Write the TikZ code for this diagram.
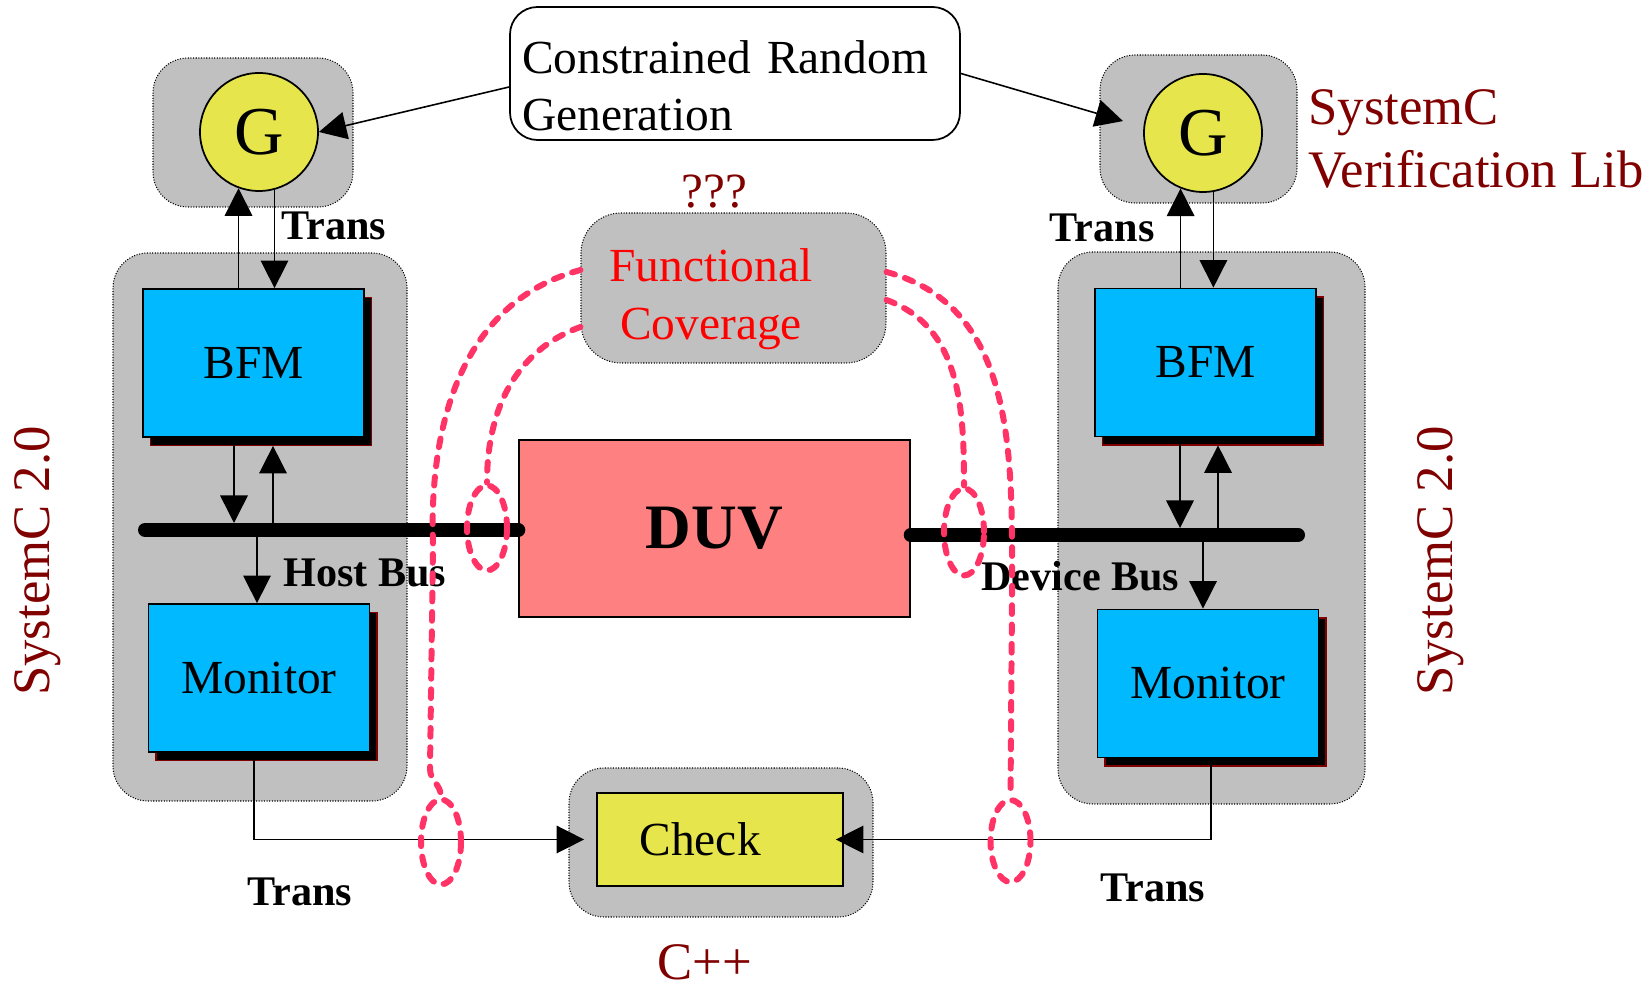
\documentclass[tikz,border=0pt]{standalone}
\usepackage{fontspec}
\setmainfont{Liberation Serif}
\usepackage{tikz}
\usetikzlibrary{arrows.meta}
\usetikzlibrary{shapes,shadows}
\usetikzlibrary{positioning}

\definecolor{grpgray}{RGB}{192,192,192}
\definecolor{genyellow}{RGB}{230,230,76}
\definecolor{bfmblue}{RGB}{0,185,255}
\definecolor{duvpink}{RGB}{255,128,128}
\definecolor{libred}{RGB}{128,0,0}
\definecolor{covpink}{RGB}{255,51,102}

\tikzstyle{group}=[draw,rounded corners=0.7cm,fill=grpgray,line width=0.6pt,dash pattern=on 0.6pt off 0.9pt]
\tikzstyle{gen}=[circle,draw,fill=genyellow,line width=1pt,minimum size=2.36cm,inner sep=0pt,font=\fontsize{39}{44}\selectfont]
\tikzstyle{blk}=[draw,fill=bfmblue,line width=1pt,minimum width=4.42cm,minimum height=2.96cm,
  font=\fontsize{27}{32}\selectfont,
  drop shadow={shadow xshift=0.15cm,shadow yshift=-0.17cm,fill=black,draw=libred,opacity=1}]
\tikzstyle{note}=[draw,rounded corners=0.55cm,line width=1pt,align=left,text width=8.52cm,
  inner xsep=0.24cm,minimum width=9cm,minimum height=2.66cm,text height=1.1cm,text depth=1.1cm,
  font=\fontsize{27}{32.4}\selectfont]
\tikzstyle{libtxt}=[text=libred,align=left,inner sep=0pt,font=\fontsize{30}{35.9}\selectfont]
\tikzstyle{lbl}=[inner sep=0pt,font=\bfseries\fontsize{24}{28}\selectfont]
\tikzstyle{conn}=[line width=0.9pt,-{Triangle[length=0.55cm,width=0.55cm]}]
\tikzstyle{hostbus}=[draw,line width=0.28cm,line cap=round]
\tikzstyle{cover}=[draw=covpink,line width=3.4pt,line cap=round,dash pattern=on 5pt off 6pt]
\tikzstyle{loop}=[ellipse,cover,minimum width=0.8cm,minimum height=1.7cm,inner sep=0pt]

\begin{document}
\begin{tikzpicture}
\useasboundingbox (0,0) rectangle (33,19.78);

% % % grey frames
	\node[group,minimum width=4.00cm,minimum height=2.98cm] (ggL) at (5.06,17.13) {};
	\node[group,minimum width=3.94cm,minimum height=2.96cm] (ggR) at (23.97,17.20) {};
	\node[group,minimum width=5.88cm,minimum height=10.96cm] (hostside) at (5.20,9.24) {};
	\node[group,minimum width=6.14cm,minimum height=11.04cm] (devside) at (24.23,9.22) {};
	\node[group,minimum width=6.10cm,minimum height=3.00cm,rounded corners=0.8cm] (fcg) at (14.67,14.02) {};
	\node[group,minimum width=6.08cm,minimum height=2.98cm] (ckg) at (14.42,2.93) {};

% % % generators
	\node[note] (crg) at (14.70,18.31) {Constrained Random\\Generation};
	\node[gen] (gL) at (5.18,17.14) {G};
	\node[gen] (gR) at (24.06,17.12) {G};
	\node[libtxt,anchor=base west] (svl) at (26.16,16.02) {SystemC\\Verification Lib};

	\path[draw,conn] ([yshift=-0.27cm]crg.west) -- (gL.east);
	\path[draw,conn,shorten >=0.42cm] (crg.east) -- ([yshift=0.12cm]gR.west);

% % % host side
	\node[blk] (bfmL) at (5.07,12.52) {BFM};
	\node[blk] (monL) at (5.18,6.22) {Monitor};
	\coordinate (busL) at (2.90,9.18);

% % % device side
	\node[blk] (bfmR) at (24.11,12.53) {BFM};
	\node[blk] (monR) at (24.16,6.11) {Monitor};
	\coordinate (busR) at (25.96,9.08);

% % % DUV and checker
	\node[draw,fill=duvpink,line width=0.8pt,minimum width=7.82cm,minimum height=3.54cm,
	  font=\bfseries\fontsize{36}{40}\selectfont] (duv) at (14.29,9.21) {DUV};
	\node[draw,fill=genyellow,line width=1pt,minimum width=4.92cm,minimum height=1.86cm,
	  text width=3.22cm,align=left,font=\fontsize{27}{32}\selectfont] (check) at (14.40,2.99) {Check};

	\path[hostbus] (busL) -- (busL -| duv.west);
	\path[hostbus] (duv.east |- busR) -- (busR);

% % % transactions
	\path[draw,conn] (gL.-110 |- bfmL.north) -- (gL.-110);
	\path[draw,conn] (gL.-75) -- (gL.-75 |- bfmL.north);
	\path[draw,conn,shorten >=0.14cm] ([xshift=-0.39cm]bfmL.south) -- ([xshift=-0.39cm]bfmL.south |- busL);
	\path[draw,conn,shorten >=0.16cm] ([xshift=0.39cm]bfmL.south |- busL) -- ([xshift=0.39cm]bfmL.south);
	\path[draw,conn] ([xshift=-0.04cm]monL.north |- busL) -- ([xshift=-0.04cm]monL.north);
	\path[draw,conn,shorten >=0.24cm] ([xshift=-0.1cm]monL.south) |- (check.west);

	\path[draw,conn] (gR.-112 |- bfmR.north) -- (gR.-112);
	\path[draw,conn] (gR.-80) -- (gR.-80 |- bfmR.north);
	\path[draw,conn,shorten >=0.14cm] ([xshift=-0.51cm]bfmR.south) -- ([xshift=-0.51cm]bfmR.south |- busR);
	\path[draw,conn,shorten >=0.16cm] ([xshift=0.25cm]bfmR.south |- busR) -- ([xshift=0.25cm]bfmR.south);
	\path[draw,conn] ([xshift=-0.1cm]monR.north |- busR) -- ([xshift=-0.1cm]monR.north);
	\path[draw,conn] ([xshift=0.06cm]monR.south) |- ([xshift=-0.16cm]check.east);

	\node[lbl,anchor=base west] (trGL) at (5.62,14.98) {Trans};
	\node[lbl,anchor=base east] (trGR) at (23.10,14.94) {Trans};
	\node[lbl,anchor=base west] (hbus) at (5.66,8.04) {Host Bus};
	\node[lbl,anchor=base west] (dbus) at (19.62,7.96) {Device Bus};
	\node[lbl,anchor=base west] (trCL) at (4.94,1.66) {Trans};
	\node[lbl,anchor=base west] (trCR) at (22.00,1.74) {Trans};

	\node[libtxt,anchor=base] (cpp) at (14.10,0.18) {C++};
	\node[libtxt,anchor=base,rotate=90] (scL) at (0.98,8.56) {SystemC 2.0};
	\node[libtxt,anchor=base,rotate=90] (scR) at (29.04,8.56) {SystemC 2.0};

% % % coverage
	\node[text=red,align=center,inner sep=0pt,font=\fontsize{27}{33}\selectfont,anchor=base] (fc) at (14.22,12.98) {Functional\\Coverage};
	\node[libtxt,anchor=base,font=\fontsize{28}{32}\selectfont] (qqq) at (14.29,15.62) {???};

	\node[loop] (loopA) at (9.74,9.22) {};
	\node[loop] (loopB) at (8.82,2.94) {};
	\node[loop,minimum height=1.74cm] (loopC) at (19.28,9.14) {};
	\node[loop,minimum height=1.64cm] (loopD) at (20.21,2.96) {};

	\path[cover] ([yshift=0.36cm]fcg.west) to[out=195,in=92] (8.66,8.9) -- (8.60,4.4) to[out=-90,in=90] (loopB.north);
	\path[cover] ([yshift=-0.78cm]fcg.west) to[out=200,in=90] (loopA.north);
	\path[cover] ([yshift=-0.24cm]fcg.east) to[out=-20,in=90] (loopC.north);
	\path[cover] ([yshift=0.32cm]fcg.east) to[out=-15,in=90] (20.24,7.8) -- (loopD.north);

\end{tikzpicture}
\end{document}
